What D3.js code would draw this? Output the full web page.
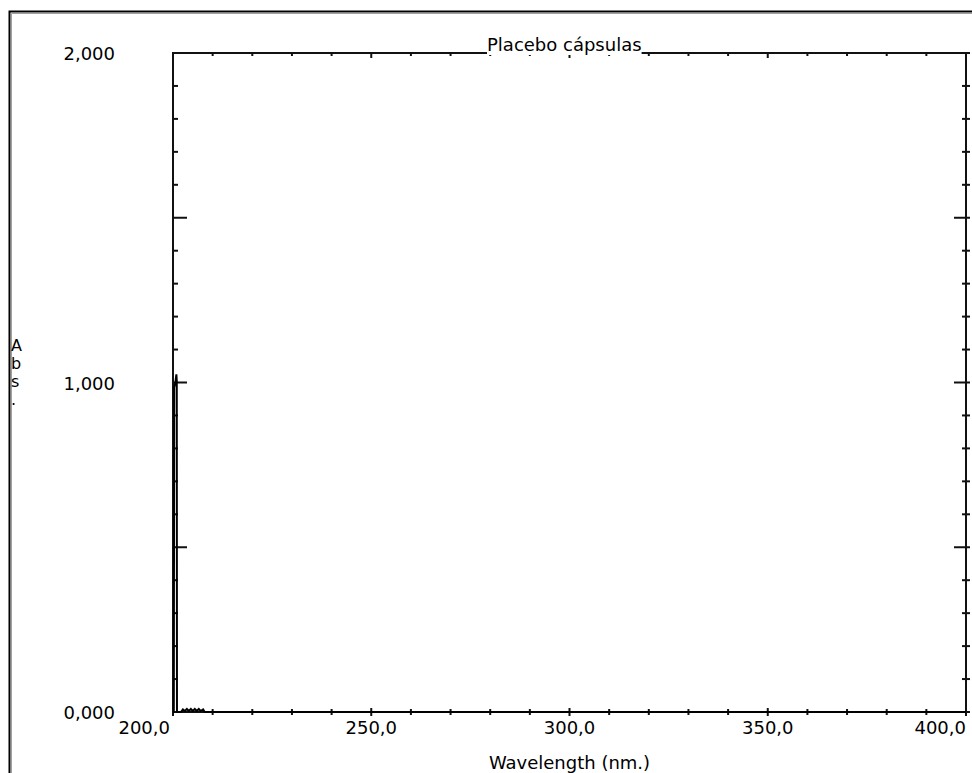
<!DOCTYPE html>
<html>
<head>
<meta charset="utf-8">
<script src="https://cdn.jsdelivr.net/npm/d3@7"></script>
<style>
  body { margin: 0; background: #fff; }
  svg { display: block; }
  text { font-family: "DejaVu Sans", sans-serif; fill: #000; }
</style>
</head>
<body>
<svg id="chart" width="972" height="773"></svg>
<script>
// Spectrum of "Placebo cápsulas" -- absorbance vs wavelength

var title = "Placebo cápsulas";
var xTitle = "Wavelength (nm.)";
var yTitle = ["A", "b", "s", "."];

// wavelength (nm) and absorbance
var wavelength = [200.0, 200.2, 200.3, 200.6, 200.85, 200.95, 201.0, 202.0, 202.5, 203.0, 203.5, 204.0, 204.5, 205.0, 205.5, 206.0, 206.5, 207.0, 207.6, 208.0, 400.0];
var absorbance = [0.000, 0.000, 0.985, 1.000, 1.025, 1.005, 0.000, 0.000, 0.008, 0.003, 0.009, 0.003, 0.009, 0.003, 0.009, 0.003, 0.009, 0.003, 0.008, 0.000, 0.000];

var xTickValues = [200, 250, 300, 350, 400];
var yTickValues = [0, 1, 2];

var svg = d3.select("#chart");

// sunken window frame
svg.append("path").attr("d", "M9.5,773 V11.5 H972").attr("fill", "none")
  .attr("stroke", "#000").attr("stroke-width", 2);
svg.append("path").attr("d", "M11.5,773 V13.5 H972").attr("fill", "none")
  .attr("stroke", "#a0a0a0").attr("stroke-width", 1);

var x = d3.scaleLinear().domain([200, 400]).range([173, 966]);
var y = d3.scaleLinear().domain([0, 2]).range([712, 53]);

var comma = function (f) { return function (v) { return f(v).replace(".", ","); }; };
var fx = comma(d3.format(".1f"));
var fy = comma(d3.format(".3f"));

var axisColor = "#111";
var g = svg.append("g");

///////////////////////////////////////////////////////////////////////////////
// Ticks

var xMinor = d3.range(200, 401, 10);
var yMinor = d3.range(0, 2.001, 0.1).map(function (v) { return +v.toFixed(1); });
var isMajorX = function (v) { return v % 50 === 0; };
var isMajorY = function (v) { return Math.abs(v * 2 - Math.round(v * 2)) < 1e-6; };

// bottom: crossing ticks
g.selectAll(".tb").data(xMinor).enter().append("line")
  .attr("x1", function (d) { return x(d); }).attr("x2", function (d) { return x(d); })
  .attr("y1", function (d) { return y(0) - (isMajorX(d) ? 4 : 3); })
  .attr("y2", function (d) { return y(0) + (isMajorX(d) ? 4 : 3); })
  .attr("stroke", axisColor).attr("stroke-width", 2);

// top: ticks pointing down
g.selectAll(".tt").data(xMinor).enter().append("line")
  .attr("x1", function (d) { return x(d); }).attr("x2", function (d) { return x(d); })
  .attr("y1", y(2)).attr("y2", function (d) { return y(2) + (isMajorX(d) ? 5 : 3); })
  .attr("stroke", axisColor).attr("stroke-width", 2);

// left: ticks pointing right
g.selectAll(".tl").data(yMinor).enter().append("line")
  .attr("x1", x(200)).attr("x2", function (d) { return x(200) + (isMajorY(d) ? 14 : 5); })
  .attr("y1", function (d) { return y(d); }).attr("y2", function (d) { return y(d); })
  .attr("stroke", axisColor).attr("stroke-width", 2);

// right: crossing minor ticks, major ticks pointing left
g.selectAll(".tr").data(yMinor).enter().append("line")
  .attr("x1", function (d) { return x(400) - (isMajorY(d) ? 12 : 4); })
  .attr("x2", x(400) + 4)
  .attr("y1", function (d) { return y(d); }).attr("y2", function (d) { return y(d); })
  .attr("stroke", axisColor).attr("stroke-width", 2);

// plot frame
g.append("rect")
  .attr("x", x(200)).attr("y", y(2))
  .attr("width", x(400) - x(200)).attr("height", y(0) - y(2))
  .attr("fill", "none").attr("stroke", axisColor).attr("stroke-width", 2);

///////////////////////////////////////////////////////////////////////////////
// Trace

var pts = wavelength.map(function (w, i) { return [w, absorbance[i]]; });
svg.append("path")
  .datum(pts)
  .attr("d", d3.line().x(function (d) { return x(d[0]); }).y(function (d) { return y(d[1]); }))
  .attr("fill", "none").attr("stroke", "#000").attr("stroke-width", 2);

///////////////////////////////////////////////////////////////////////////////
// Labels

svg.selectAll(".xl").data(xTickValues).enter().append("text")
  .attr("x", function (d, i) { return i === 0 ? x(d) - 3 : x(d); })
  .attr("y", 734)
  .attr("text-anchor", function (d, i) { return i === 0 || i === xTickValues.length - 1 ? "end" : "middle"; })
  .style("font-size", "18px")
  .text(fx);

svg.selectAll(".yl").data(yTickValues).enter().append("text")
  .attr("x", 115)
  .attr("y", function (d) { return y(d) + 7; })
  .attr("text-anchor", "end")
  .style("font-size", "18px")
  .text(fy);

svg.append("text")
  .attr("x", x(300)).attr("y", 769)
  .attr("text-anchor", "middle")
  .style("font-size", "18px")
  .text(xTitle);

svg.selectAll(".yt").data(yTitle).enter().append("text")
  .attr("x", 11)
  .attr("y", function (d, i) { return 351 + i * 18; })
  .style("font-size", "16px")
  .text(function (d) { return d; });

// title sits on a white patch over the top frame line
var t = svg.append("text")
  .attr("x", 487).attr("y", 51)
  .style("font-size", "18px")
  .text(title);
var bb = t.node().getBBox();
svg.insert("rect", "text")
  .attr("x", bb.x).attr("y", bb.y)
  .attr("width", bb.width).attr("height", y(2) + 2 - bb.y)
  .attr("fill", "#fff");
</script>
</body>
</html>
